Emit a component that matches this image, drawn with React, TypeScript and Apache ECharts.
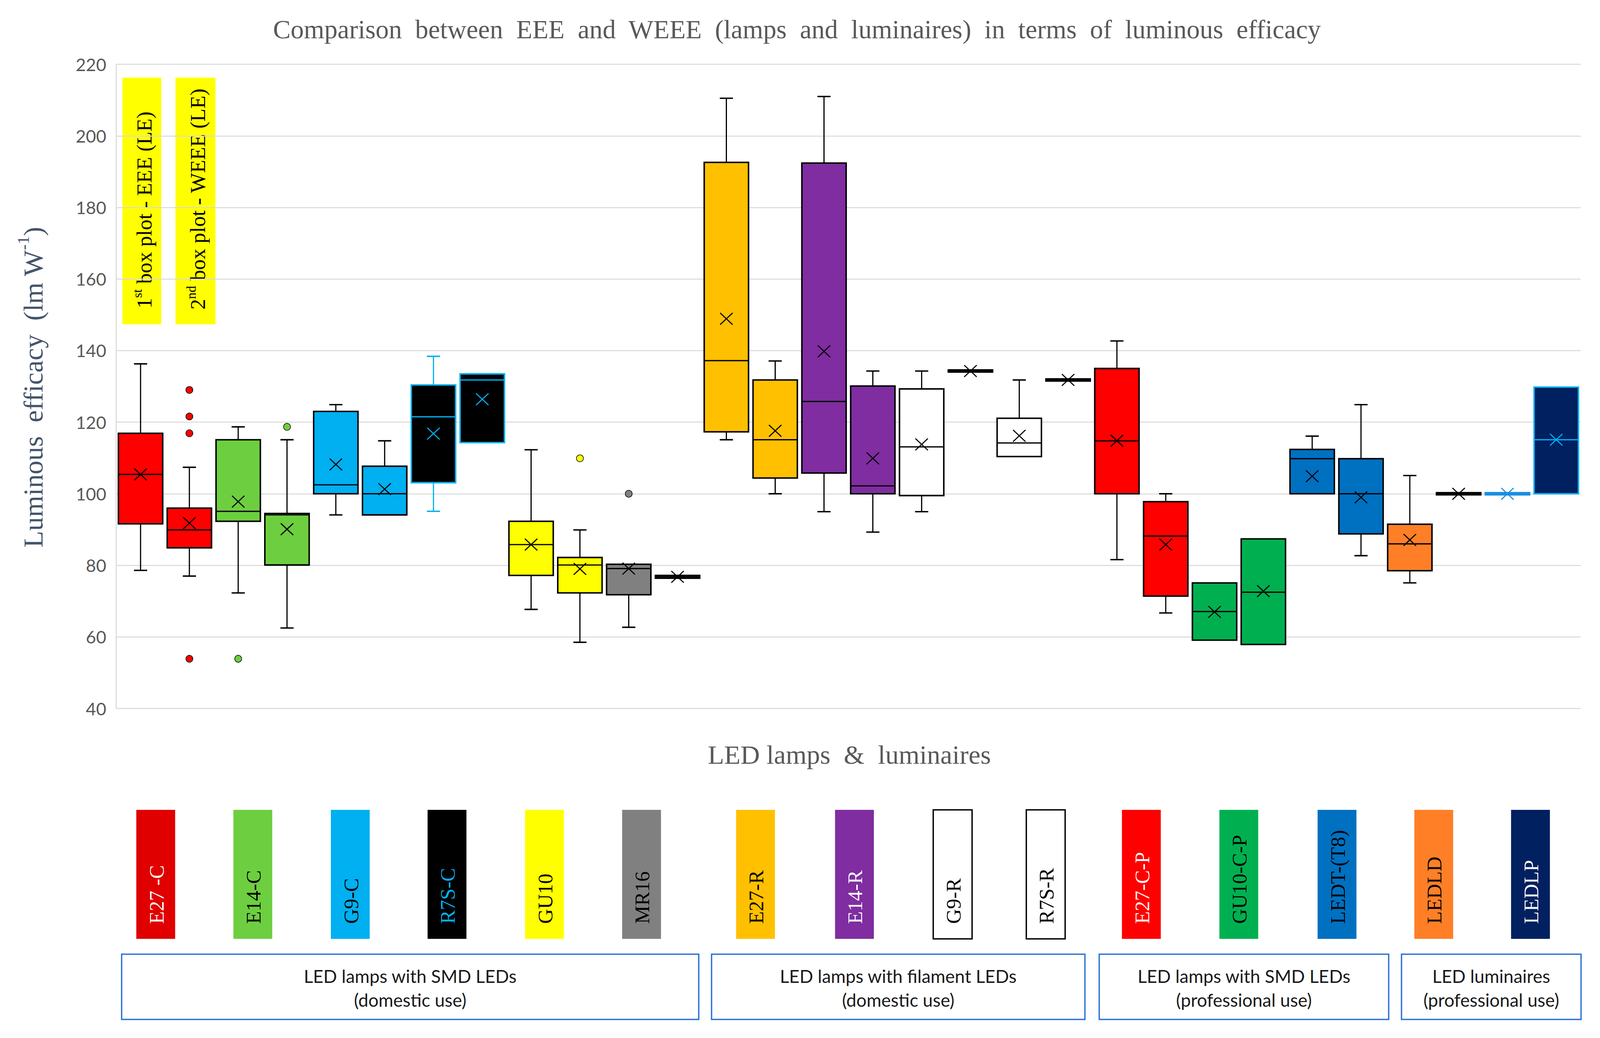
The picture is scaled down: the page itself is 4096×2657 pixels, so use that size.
import React, { useEffect, useRef } from "react";
import * as echarts from "echarts";

const S = 0.938;
const W = 4096;
const H = 2657;
const s = (v: number) => v * S;

// ---------- data ----------
const categories = ["E27-C", "E14-C", "G9-C", "R7S-C", "GU10", "MR16", "E27-R", "E14-R", "G9-R", "R7S-R", "E27-C-P", "GU10-C-P", "LEDT-(T8)", "LEDLD", "LEDLP"];
const boxKinds = ["EEE", "WEEE"];
const slotNames = categories.flatMap((c) => boxKinds.map((k) => c + " " + k));

const minVals = [78.6, 77.0, 72.3, 62.5, 94.1, 94.1, 95.1, 114.3, 67.7, 58.5, 62.7, 76.4, 115.1, 100.0, 95.0, 89.3, 95.0, 134.0, 110.4, 131.5, 81.6, 66.7, 59.1, 57.9, 100.0, 82.7, 75.1, 99.7, 99.7, 100.0];
const q1Vals = [91.6, 84.9, 92.3, 80.1, 100.0, 94.1, 103.1, 114.3, 77.2, 72.3, 71.8, 76.4, 117.3, 104.4, 105.8, 100.0, 99.5, 134.0, 110.4, 131.5, 100.0, 71.4, 59.1, 57.9, 100.0, 88.8, 78.5, 99.7, 99.7, 100.0];
const medianVals = [105.4, 89.9, 95.1, 94.1, 102.5, 100.0, 121.5, 131.8, 85.8, 80.1, 79.1, 76.8, 137.2, 115.1, 125.8, 102.2, 113.1, 134.3, 114.2, 131.8, 114.8, 88.2, 67.1, 72.5, 109.8, 100.0, 86.0, 100.0, 100.0, 115.1];
const q3Vals = [116.9, 96.0, 115.1, 94.5, 123.0, 107.7, 130.4, 133.5, 92.3, 82.2, 80.3, 77.2, 192.6, 131.8, 192.4, 130.1, 129.3, 134.6, 121.1, 132.1, 135.0, 97.8, 75.1, 87.4, 112.4, 109.8, 91.5, 100.3, 100.3, 129.8];
const maxVals = [136.3, 107.4, 118.7, 115.1, 124.9, 114.8, 138.4, 133.5, 112.3, 89.9, 80.3, 77.2, 210.5, 137.1, 211.0, 134.3, 134.3, 134.6, 131.8, 132.1, 142.7, 100.0, 75.1, 87.4, 116.1, 124.9, 105.1, 100.3, 100.3, 129.8];
const meanVals = [105.4, 91.8, 97.8, 90.1, 108.2, 101.3, 116.8, 126.4, 85.8, 79.0, 79.1, 76.8, 148.9, 117.6, 139.8, 109.9, 113.8, 134.3, 116.2, 131.8, 114.8, 85.8, 67.0, 72.8, 104.9, 99.0, 87.1, 100.0, 100.0, 115.1];

const outlierSlots = [1, 1, 1, 1, 2, 3, 9, 10];
const outlierVals = [129.0, 121.6, 116.9, 53.9, 53.9, 118.7, 109.9, 100.0];

const legendLabels = ["E27 -C", "E14-C", "G9-C", "R7S-C", "GU10", "MR16", "E27-R", "E14-R", "G9-R", "R7S-R", "E27-C-P", "GU10-C-P", "LEDT-(T8)", "LEDLD", "LEDLP"];
const familyLine1 = ["LED lamps with SMD LEDs", "LED lamps with filament LEDs", "LED lamps with SMD LEDs", "LED luminaires"];
const familyLine2 = ["(domestic use)", "(domestic use)", "(professional use)", "(professional use)"];

const titleText = "Comparison\u00A0 between\u00A0 EEE\u00A0 and\u00A0 WEEE\u00A0 (lamps\u00A0 and\u00A0 luminaires)\u00A0 in\u00A0 terms\u00A0 of\u00A0 luminous\u00A0 efficacy";
const xName = "LED lamps\u00A0 &\u00A0 luminaires";

// ---------- styles ----------
const groupFills = ["#FF0000", "#6DCF3F", "#00B0F0", "#000000", "#FFFF00", "#808080", "#FFC000", "#7F2DA0", "#FFFFFF", "#FFFFFF", "#FF0000", "#00B050", "#0070C0", "#FF7F27", "#002060"];
const legendFills = ["#E00000", "#6DCF3F", "#00B0F0", "#000000", "#FFFF00", "#808080", "#FFC000", "#7F2DA0", "#FFFFFF", "#FFFFFF", "#FF0000", "#00B050", "#0070C0", "#FF7F27", "#002060"];
const legendTextColors = ["#FFFFFF", "#000000", "#000000", "#00B0F0", "#000000", "#000000", "#000000", "#FFFFFF", "#000000", "#000000", "#FFFFFF", "#000000", "#000000", "#000000", "#FFFFFF"];
const strokeOverrides: Record<number, string> = { 6: "#00B0F0", 7: "#00B0F0", 28: "#1A8FE0", 29: "#00B0F0" };

// layout (full-size reference coordinates)
const legendCenters = [425, 690, 956, 1220, 1486, 1751, 2062, 2332, 2600, 2854, 3115, 3381, 3649, 3913, 4177];
const familyBoxes = [[332, 1907], [1942, 2961], [3000, 3790], [3825, 4315]];

const SERIF = '"Liberation Serif", "DejaVu Serif", "Times New Roman", serif';
const SANS = 'Lato, "Open Sans", "Noto Sans", sans-serif';

function strokeFor(i: number) {
  return strokeOverrides[i] ?? "#000000";
}

function renderBox(_params: any, api: any) {
  const i = api.value(0);
  const mn = api.value(1);
  const q1 = api.value(2);
  const md = api.value(3);
  const q3 = api.value(4);
  const mx = api.value(5);
  const mean = api.value(6);
  const cx = api.coord([i, md])[0];
  const band = api.size([1, 0])[0];
  const bw = band * 0.908;
  const yy = (v: number) => api.coord([i, v])[1];
  const fill = groupFills[Math.floor(i / 2)];
  const stroke = strokeFor(i);
  const cap = s(18);
  const xh = s(17);
  const yh = s(16);
  const ln = (x1: number, y1: number, x2: number, y2: number, w: number) => ({
    type: "line",
    shape: { x1, y1, x2, y2 },
    style: { stroke, lineWidth: w },
  });
  const children: any[] = [];
  if (mx > q3 + 0.01) {
    children.push(ln(cx, yy(q3), cx, yy(mx), 3));
    children.push(ln(cx - cap, yy(mx), cx + cap, yy(mx), 3.6));
  }
  if (mn < q1 - 0.01) {
    children.push(ln(cx, yy(q1), cx, yy(mn), 3));
    children.push(ln(cx - cap, yy(mn), cx + cap, yy(mn), 3.6));
  }
  children.push({
    type: "rect",
    shape: { x: cx - bw / 2, y: yy(q3), width: bw, height: yy(q1) - yy(q3) },
    style: { fill, stroke, lineWidth: 3.8 },
  });
  children.push(ln(cx - bw / 2, yy(md), cx + bw / 2, yy(md), 3.2));
  const ym = yy(mean);
  children.push(ln(cx - xh, ym - yh, cx + xh, ym + yh, 2.8));
  children.push(ln(cx - xh, ym + yh, cx + xh, ym - yh, 2.8));
  return { type: "group", children };
}

function buildGraphics() {
  const els: any[] = [];
  // title
  els.push({
    type: "text",
    x: s(2175),
    y: s(80),
    style: { text: titleText, fill: "#595959", font: `${s(72)}px ${SERIF}`, align: "center", verticalAlign: "middle" },
  });
  // x axis name
  els.push({
    type: "text",
    x: s(2318),
    y: s(2060),
    style: { text: xName, fill: "#595959", font: `${s(73)}px ${SERIF}`, align: "center", verticalAlign: "middle" },
  });
  // y axis name
  els.push({
    type: "text",
    x: s(84),
    y: s(1057),
    rotation: Math.PI / 2,
    style: {
      text: "{a|Luminous\u00A0 efficacy\u00A0 (lm W}{b|-1}{a|)}",
      align: "center",
      verticalAlign: "middle",
      rich: {
        a: { fill: "#44546A", fontFamily: SERIF, fontSize: s(75), lineHeight: s(88), verticalAlign: "bottom" },
        b: { fill: "#44546A", fontFamily: SERIF, fontSize: s(46), lineHeight: s(88), verticalAlign: "top" },
      },
    },
  });
  // yellow annotation boxes
  const notes = [
    { x0: 334, x1: 440, ord: "st", rest: "1", tail: " box plot - EEE (LE)", by: 842 },
    { x0: 479, x1: 588, ord: "nd", rest: "2", tail: " box plot - WEEE (LE)", by: 845 },
  ];
  notes.forEach((n) => {
    els.push({ type: "rect", shape: { x: s(n.x0), y: s(212), width: s(n.x1 - n.x0), height: s(673) }, style: { fill: "#FFFF00" } });
    els.push({
      type: "text",
      x: s((n.x0 + n.x1) / 2 + 3),
      y: s(n.by),
      rotation: Math.PI / 2,
      style: {
        text: `{a|${n.rest}}{b|${n.ord}}{a|${n.tail}}`,
        align: "left",
        verticalAlign: "middle",
        rich: {
          a: { fill: "#000000", fontFamily: SERIF, fontSize: s(58), lineHeight: s(66), verticalAlign: "bottom" },
          b: { fill: "#000000", fontFamily: SERIF, fontSize: s(36), lineHeight: s(66), verticalAlign: "top" },
        },
      },
    });
  });
  // legend color bars
  legendCenters.forEach((c, g) => {
    const white = legendFills[g] === "#FFFFFF";
    els.push({
      type: "rect",
      shape: { x: s(c - 53), y: s(2210), width: s(106), height: s(352) },
      style: { fill: legendFills[g], stroke: white ? "#000000" : null, lineWidth: white ? 3.5 : 0 },
    });
    els.push({
      type: "text",
      x: s(c + 2),
      y: s(2521),
      rotation: Math.PI / 2,
      style: {
        text: legendLabels[g],
        fill: legendTextColors[g],
        font: `${s(56)}px ${SERIF}`,
        align: "left",
        verticalAlign: "middle",
      },
    });
  });
  // family boxes
  familyBoxes.forEach((b, k) => {
    els.push({
      type: "rect",
      shape: { x: s(b[0]), y: s(2604), width: s(b[1] - b[0]), height: s(178) },
      style: { fill: "#FFFFFF", stroke: "#2E75D6", lineWidth: 3.5 },
    });
    const cx = s((b[0] + b[1]) / 2);
    els.push({
      type: "text",
      x: cx,
      y: s(2664),
      style: { text: familyLine1[k], fill: "#1A1A1A", font: `${s(49)}px ${SANS}`, align: "center", verticalAlign: "middle" },
    });
    els.push({
      type: "text",
      x: cx,
      y: s(2729),
      style: { text: familyLine2[k], fill: "#1A1A1A", font: `${s(49)}px ${SANS}`, align: "center", verticalAlign: "middle" },
    });
  });
  return els;
}

export default function App() {
  const ref = useRef<HTMLDivElement>(null);
  useEffect(() => {
    if (!ref.current) return;
    const chart = echarts.init(ref.current, undefined, { renderer: "svg" });
    const boxData = slotNames.map((_, i) => [i, minVals[i], q1Vals[i], medianVals[i], q3Vals[i], maxVals[i], meanVals[i]]);
    const outData = outlierSlots.map((sl, k) => [sl, outlierVals[k]]);
    chart.setOption({
      animation: false,
      backgroundColor: "#FFFFFF",
      grid: { left: s(317), right: W - s(4314), top: s(175.4), bottom: H - s(1933.5), containLabel: false },
      xAxis: {
        type: "category",
        data: slotNames,
        boundaryGap: true,
        axisLine: { show: false },
        axisTick: { show: false },
        axisLabel: { show: false },
        splitLine: { show: false },
      },
      yAxis: {
        type: "value",
        min: 40,
        max: 220,
        interval: 20,
        axisLine: { show: true, lineStyle: { color: "#D9D9D9", width: 2.6 } },
        axisTick: { show: false },
        axisLabel: { color: "#595959", fontSize: s(48), fontFamily: SANS, margin: s(27) },
        splitLine: { show: true, lineStyle: { color: "#D9D9D9", width: 2.6 } },
      },
      series: [
        {
          type: "custom",
          name: "boxes",
          renderItem: renderBox,
          data: boxData,
          encode: { x: 0, y: [1, 2, 3, 4, 5, 6] },
          z: 2,
        },
        {
          type: "scatter",
          name: "outliers",
          data: outData,
          symbol: "circle",
          symbolSize: s(19),
          itemStyle: {
            color: (p: any) => groupFills[Math.floor(p.data[0] / 2)],
            borderColor: "#000000",
            borderWidth: 1.5,
            opacity: 1,
          },
          z: 3,
        },
      ],
      graphic: buildGraphics(),
    });
    return () => chart.dispose();
  }, []);
  return <div ref={ref} style={{ position: "fixed", left: 0, top: 0, width: W, height: H, background: "#fff" }} />;
}
